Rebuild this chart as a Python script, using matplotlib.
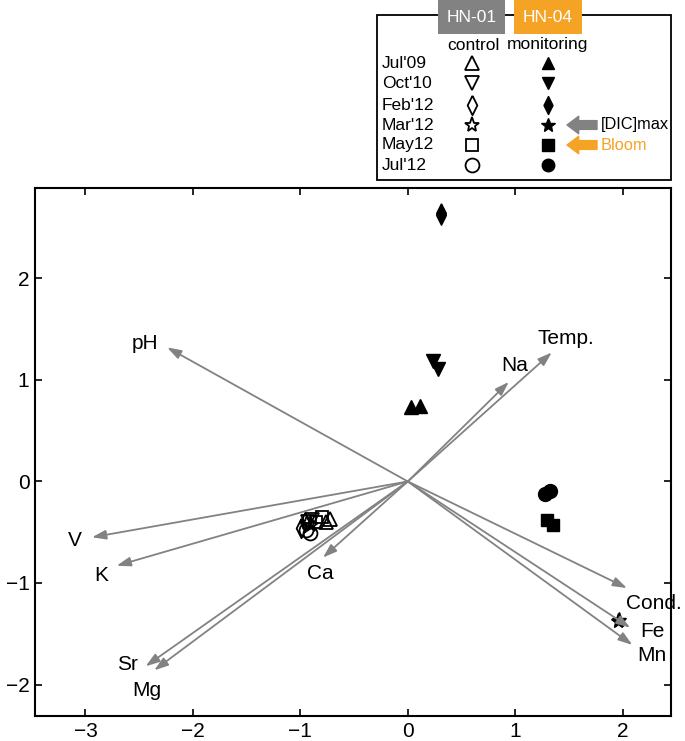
import numpy as np
import matplotlib
matplotlib.use("Agg")
import matplotlib.pyplot as plt
from matplotlib.patches import Rectangle

plt.rcParams['font.family'] = ['Liberation Sans', 'DejaVu Sans']

# ---- data ----
var_names = ["pH", "Temp.", "Na", "V", "K", "Ca", "Sr", "Mg", "Cond.", "Fe", "Mn"]
var_x = [-2.24, 1.34, 0.94, -2.94, -2.71, -0.79, -2.44, -2.36, 2.04, 2.07, 2.09]
var_y = [1.32, 1.27, 0.98, -0.55, -0.83, -0.75, -1.82, -1.86, -1.05, -1.44, -1.61]

dates = ["Jul'09", "Oct'10", "Feb'12", "Mar'12", "May12", "Jul'12"]

hn01_x = [[-0.76, -0.72], [-0.89, -0.93], [-0.99, -0.96], [-0.94, -0.90], [-0.80, -0.85], [-0.91, -0.95]]
hn01_y = [[-0.40, -0.37], [-0.38, -0.40], [-0.46, -0.40], [-0.41, -0.43], [-0.35, -0.40], [-0.51, -0.48]]
hn04_x = [[0.03, 0.11], [0.23, 0.28], [0.31, 0.31], [1.96, 1.97], [1.30, 1.35], [1.28, 1.32]]
hn04_y = [[0.73, 0.74], [1.19, 1.11], [2.64, 2.62], [-1.37, -1.36], [-0.38, -0.43], [-0.12, -0.09]]

# label offsets in pixels (layout)
label_off = [(-22, 4), (14, 14), (6, 16), (-17, -3), (-15, -10), (-3, -16),
             (-18, 2), (-7, -20), (27, -15), (22, -4), (20, -11)]

gray = "#828282"
orange = "#F4A325"
thin_diamond = [(0, 1), (0.5, 0), (0, -1), (-0.5, 0), (0, 1)]
markers = ["^", "v", thin_diamond, "*", "s", "o"]
msizes = [10, 10, 14, 11, 9, 10]

fig = plt.figure(figsize=(6.85, 7.41), dpi=100)
ax = fig.add_axes([35 / 685, 25 / 741, 636 / 685, 528 / 741])

for i in range(len(var_names)):
    ax.annotate("", xy=(var_x[i], var_y[i]), xytext=(0, 0),
                arrowprops=dict(arrowstyle="-|>,head_length=0.6,head_width=0.2",
                                color=gray, lw=1.3, shrinkA=0, shrinkB=0,
                                mutation_scale=14))
    ax.annotate(var_names[i], xy=(var_x[i], var_y[i]), xytext=label_off[i],
                textcoords="offset pixels", ha="center", va="center", fontsize=15)

for i in range(len(dates)):
    ax.plot(hn01_x[i], hn01_y[i], ls="none", marker=markers[i], ms=msizes[i],
            mfc="none", mec="black", mew=1.3)
    ax.plot(hn04_x[i], hn04_y[i], ls="none", marker=markers[i], ms=msizes[i],
            mfc="black", mec="black")

ax.set_xlim(-3.47, 2.45)
ax.set_ylim(-2.31, 2.89)
ax.set_xticks([-3, -2, -1, 0, 1, 2])
ax.set_yticks([-2, -1, 0, 1, 2])
ax.tick_params(direction="in", length=5, width=1.2, labelsize=15, pad=4,
               top=True, right=True)
for s in ax.spines.values():
    s.set_linewidth(1.5)

# ---- legend box ----
lg = fig.add_axes([376 / 685, (741 - 181) / 741, 296 / 685, 181 / 741])
lg.set_xlim(376, 672)
lg.set_ylim(181, 0)
lg.axis("off")
lg.add_patch(Rectangle((377, 15), 294, 165, fill=False, ec="black", lw=1.3))
lg.add_patch(Rectangle((438, 0), 67, 34, fc=gray, ec="none", zorder=3))
lg.add_patch(Rectangle((514, 0), 68, 34, fc=orange, ec="none", zorder=3))
lg.text(471.5, 17, "HN-01", color="white", ha="center", va="center", fontsize=12.5, zorder=4)
lg.text(548, 17, "HN-04", color="white", ha="center", va="center", fontsize=12.5, zorder=4)
lg.text(473, 45, "control", ha="center", va="center", fontsize=12.5)
lg.text(547, 45, "monitoring", ha="center", va="center", fontsize=12.5)

row_y = [63, 83, 105, 125, 145, 165]
for i in range(len(dates)):
    lg.text(382, row_y[i], dates[i], ha="left", va="center", fontsize=12.5)
    lg.plot([472], [row_y[i]], marker=markers[i], ms=msizes[i], mfc="none",
            mec="black", mew=1.3, clip_on=False)
    lg.plot([548], [row_y[i]], marker=markers[i], ms=msizes[i] - 1, mfc="black",
            mec="black", clip_on=False)

for yy, col, txt in [(125, gray, "[DIC]max"), (145, orange, "Bloom")]:
    lg.annotate("", xy=(567, yy), xytext=(597, yy),
                arrowprops=dict(arrowstyle="simple,head_length=0.6,head_width=0.9,tail_width=0.45",
                                color=col, mutation_scale=14, shrinkA=0, shrinkB=0))
    lg.text(601, yy, txt, color="black" if col == gray else col, ha="left",
            va="center", fontsize=11.8)

fig.savefig("out.png", dpi=100)
